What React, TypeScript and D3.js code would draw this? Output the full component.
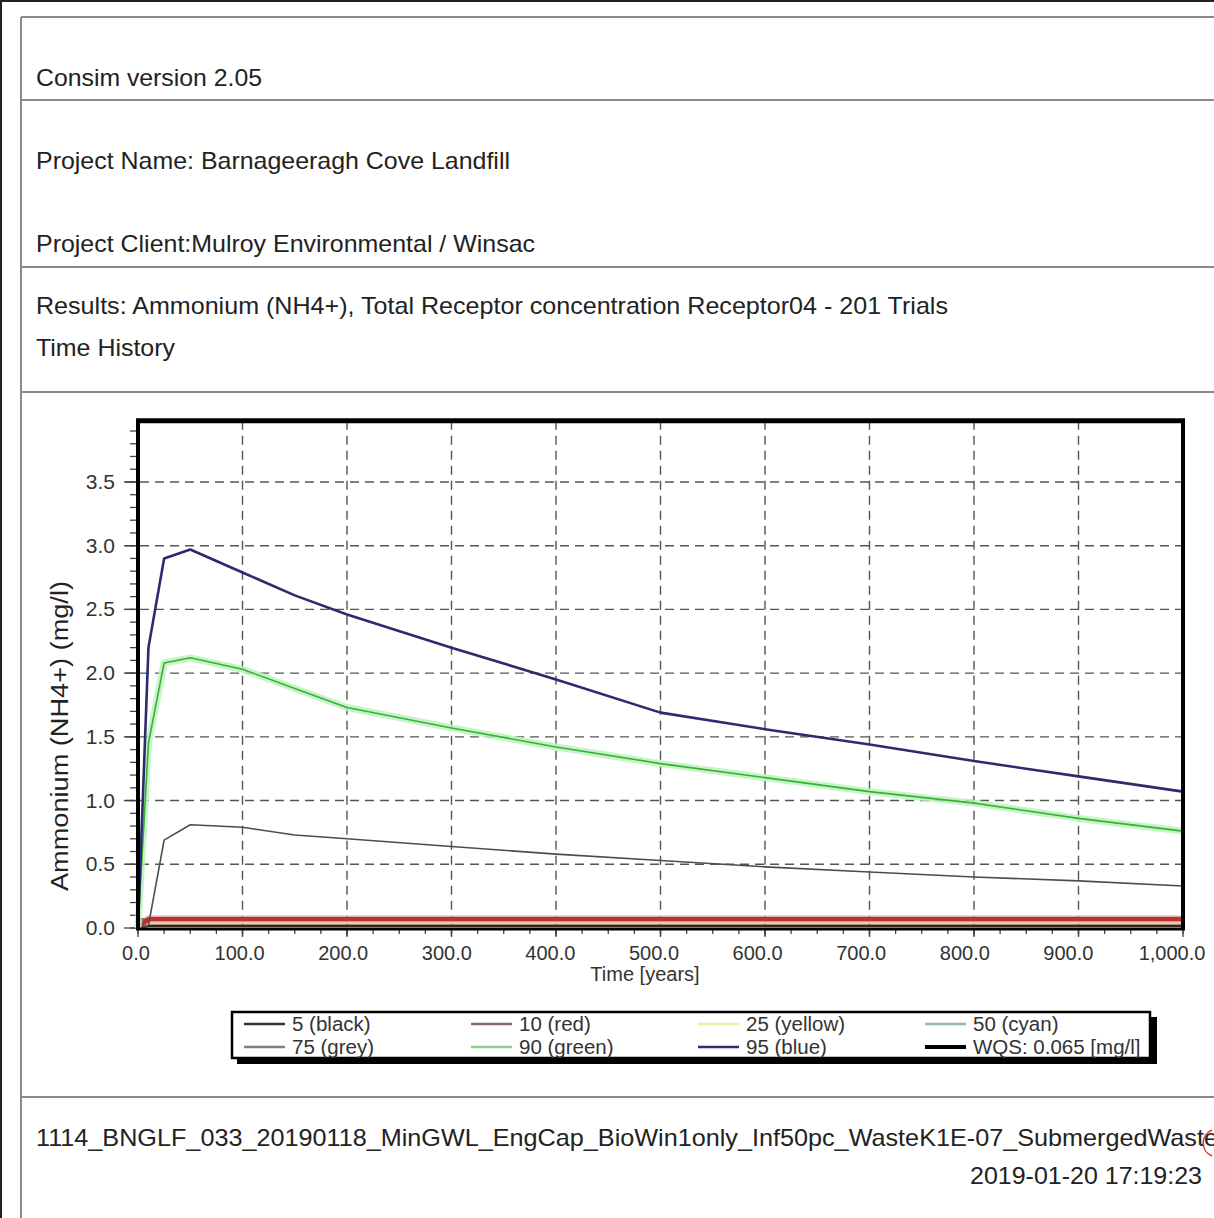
import React from "react";
import * as d3 from "d3";

const TIME = [0, 10, 25, 50, 100, 150, 200, 300, 400, 500, 600, 700, 800, 900, 1000];
const P5 = [0, 0.018, 0.018, 0.018, 0.018, 0.018, 0.018, 0.018, 0.018, 0.018, 0.018, 0.018, 0.018, 0.018, 0.018];
const P10 = [0, 0.07, 0.07, 0.07, 0.07, 0.07, 0.07, 0.07, 0.07, 0.07, 0.07, 0.07, 0.07, 0.07, 0.07];
const P25 = [0, 0.042, 0.042, 0.042, 0.042, 0.042, 0.042, 0.042, 0.042, 0.042, 0.042, 0.042, 0.042, 0.042, 0.042];
const P50 = [0, 0.06, 0.06, 0.06, 0.06, 0.06, 0.06, 0.06, 0.06, 0.06, 0.06, 0.06, 0.06, 0.06, 0.06];
const P75 = [0, 0.02, 0.69, 0.81, 0.79, 0.73, 0.7, 0.64, 0.58, 0.53, 0.48, 0.44, 0.4, 0.37, 0.33];
const P90 = [0, 1.45, 2.08, 2.12, 2.03, 1.88, 1.73, 1.57, 1.42, 1.29, 1.18, 1.07, 0.98, 0.86, 0.76];
const P95 = [0, 2.2, 2.9, 2.97, 2.79, 2.61, 2.46, 2.2, 1.95, 1.69, 1.56, 1.44, 1.31, 1.19, 1.07];
const WQS = 0.065;

const X_TICKS = [0, 100, 200, 300, 400, 500, 600, 700, 800, 900, 1000];
const Y_TICKS = [0, 0.5, 1.0, 1.5, 2.0, 2.5, 3.0, 3.5];

const LEGEND_ROW1 = ["5 (black)", "10 (red)", "25 (yellow)", "50 (cyan)"];
const LEGEND_ROW2 = ["75 (grey)", "90 (green)", "95 (blue)", "WQS: 0.065 [mg/l]"];
const LEGEND_COL1 = ["#333333", "#8a6a6a", "#e6f2a8", "#8fb8b4"];
const LEGEND_COL2 = ["#808080", "#90cc90", "#2d2d72", "#000000"];

const FONT = "'Liberation Sans', Arial, sans-serif";

export default function App() {
  const x = d3.scaleLinear().domain([0, 1000]).range([138, 1183]);
  const xl = d3.scaleLinear().domain([0, 1000]).range([136, 1172]);
  const y = d3.scaleLinear().domain([0, 3.98]).range([928, 420.8]);
  const line = d3
    .line<number>()
    .x((_, i) => x(TIME[i]))
    .y((d) => y(d));
  const fx = d3.format(",.1f");
  const fy = d3.format(".1f");
  const minorY = d3.range(0, 3.95, 0.1);
  const minorX = d3.range(0, 1001, 25);

  const top = y.range()[1];
  const bottom = y(0);
  const left = x(0);
  const right = x(1000);

  const legendCols = [244, 471, 698, 925];

  return (
    <div style={{ position: "absolute", left: 0, top: 0 }}>
      <svg width={1214} height={1218} style={{ display: "block", background: "#fff" }} fontFamily={FONT}>
        <rect x={0} y={0} width={1214} height={1218} fill="#fff" />
        {/* outer frame */}
        <line x1={0} x2={1214} y1={1} y2={1} stroke="#222" strokeWidth={2} />
        <line x1={1} x2={1} y1={0} y2={1218} stroke="#222" strokeWidth={2} />
        <line x1={21} x2={1214} y1={17} y2={17} stroke="#8a8a8a" strokeWidth={2} />
        <line x1={21} x2={21} y1={17} y2={1218} stroke="#8a8a8a" strokeWidth={2} />
        {[100, 267, 392, 1097].map((yy) => (
          <line key={yy} x1={21} x2={1214} y1={yy} y2={yy} stroke="#8a8a8a" strokeWidth={2} />
        ))}

        {/* header texts */}
        <g fill="#222" fontSize={24}>
          <text x={36} y={86} textLength={226} lengthAdjust="spacingAndGlyphs">Consim version 2.05</text>
          <text x={36} y={169} textLength={474} lengthAdjust="spacingAndGlyphs">Project Name: Barnageeragh Cove Landfill</text>
          <text x={36} y={252} textLength={499} lengthAdjust="spacingAndGlyphs">Project Client:Mulroy Environmental / Winsac</text>
          <text x={36} y={314} textLength={912} lengthAdjust="spacingAndGlyphs">
            Results: Ammonium (NH4+), Total Receptor concentration Receptor04 - 201 Trials
          </text>
          <text x={36} y={356} textLength={139} lengthAdjust="spacingAndGlyphs">Time History</text>
          <text x={36} y={1146} textLength={1182} lengthAdjust="spacingAndGlyphs">
            1114_BNGLF_033_20190118_MinGWL_EngCap_BioWin1only_Inf50pc_WasteK1E-07_SubmergedWaste
          </text>
          <text x={1202} y={1184} textAnchor="end" textLength={232} lengthAdjust="spacingAndGlyphs">2019-01-20 17:19:23</text>
        </g>
        <path d="M 1212 1130 A 14 14 0 0 0 1212 1156" fill="none" stroke="#e03030" strokeWidth={1.5} />

        {/* grid */}
        <g stroke="#555" strokeWidth={1.4} strokeDasharray="9,6">
          {Y_TICKS.filter((t) => t > 0).map((t) => (
            <line key={"gy" + t} x1={125} x2={right} y1={y(t)} y2={y(t)} />
          ))}
          {X_TICKS.filter((t) => t > 0 && t < 1000).map((t) => (
            <line key={"gx" + t} x1={x(t)} x2={x(t)} y1={top} y2={936} />
          ))}
        </g>

        {/* minor / major ticks */}
        <g stroke="#444" strokeWidth={1.3}>
          {minorY.map((t, i) => (
            <line key={"my" + i} x1={130} x2={left} y1={y(t)} y2={y(t)} />
          ))}
          {Y_TICKS.map((t) => (
            <line key={"My" + t} x1={124} x2={left} y1={y(t)} y2={y(t)} />
          ))}
          {minorX.map((t) => (
            <line key={"mx" + t} x1={x(t)} x2={x(t)} y1={bottom} y2={934} />
          ))}
          {X_TICKS.map((t) => (
            <line key={"Mx" + t} x1={x(t)} x2={x(t)} y1={bottom} y2={937} />
          ))}
        </g>

        {/* series */}
        <g fill="none" strokeLinejoin="round">
          <line x1={left} x2={right} y1={y(WQS)} y2={y(WQS)} stroke="#000" strokeWidth={3} />
          <path d={line(P50) || ""} stroke="#5fb8b8" strokeWidth={2} />
          <path d={line(P25) || ""} stroke="#f2cf9a" strokeWidth={2.5} />
          <path d={line(P5) || ""} stroke="#3a2412" strokeWidth={2.5} />
          <path d={line(P10) || ""} stroke="#f2b8b8" strokeWidth={8} opacity={0.6} />
          <path d={line(P10) || ""} stroke="#b83232" strokeWidth={4.5} />
          <path d={line(P75) || ""} stroke="#4d4d4d" strokeWidth={1.6} />
          <path d={line(P90) || ""} stroke="#bdf2bd" strokeWidth={7} opacity={0.85} />
          <path d={line(P90) || ""} stroke="#38b038" strokeWidth={1.6} />
          <path d={line(P95) || ""} stroke="#2b2b6e" strokeWidth={2.6} />
        </g>

        {/* plot frame */}
        <g stroke="#000" strokeWidth={4} fill="none">
          <line x1={left - 2} x2={right + 2} y1={top} y2={top} strokeWidth={5} />
          <line x1={left} x2={left} y1={top} y2={bottom + 2} />
          <line x1={right} x2={right} y1={top} y2={bottom + 2} />
          <line x1={left - 2} x2={right + 2} y1={bottom + 1} y2={bottom + 1} strokeWidth={3} />
        </g>

        {/* tick labels */}
        <g fill="#333" fontSize={20}>
          {Y_TICKS.map((t) => (
            <text key={"ly" + t} x={115} y={y(t) + 7} textAnchor="end" fontSize={21}>{fy(t)}</text>
          ))}
          {X_TICKS.map((t) => (
            <text key={"lx" + t} x={xl(t)} y={960} textAnchor="middle">{fx(t)}</text>
          ))}
          <text x={645} y={981} textAnchor="middle">Time [years]</text>
          <text
            transform={`translate(68, ${736}) rotate(-90)`}
            textAnchor="middle"
            fontSize={23}
            fill="#222"
            textLength={310}
            lengthAdjust="spacingAndGlyphs"
          >
            Ammonium (NH4+) (mg/l)
          </text>
        </g>

        {/* legend */}
        <rect x={237} y={1017} width={920} height={47} fill="#000" />
        <rect x={232} y={1012} width={918} height={46} fill="#fff" stroke="#000" strokeWidth={2.5} />
        <g fontSize={20.5} fill="#333">
          {LEGEND_ROW1.map((lab, i) => (
            <g key={"l1" + i}>
              <line x1={legendCols[i]} x2={legendCols[i] + 41} y1={1024} y2={1024} stroke={LEGEND_COL1[i]} strokeWidth={2.5} />
              <text x={legendCols[i] + 48} y={1031}>{lab}</text>
            </g>
          ))}
          {LEGEND_ROW2.map((lab, i) => (
            <g key={"l2" + i}>
              <line
                x1={legendCols[i]}
                x2={legendCols[i] + 41}
                y1={1047}
                y2={1047}
                stroke={LEGEND_COL2[i]}
                strokeWidth={i === 3 ? 4 : 2.5}
              />
              <text x={legendCols[i] + 48} y={1054}>{lab}</text>
            </g>
          ))}
        </g>
      </svg>
    </div>
  );
}
